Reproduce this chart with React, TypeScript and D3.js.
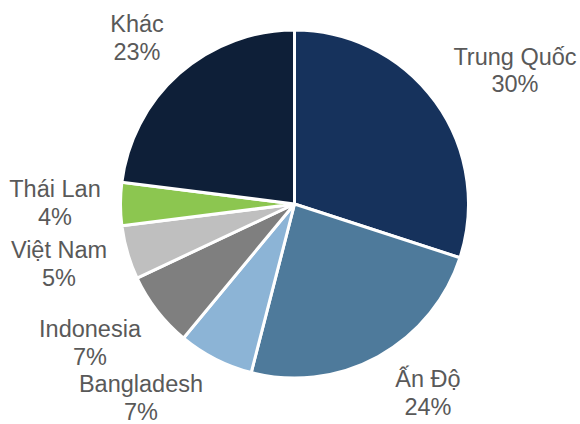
import React from "react";
import * as d3 from "d3";

const categories = ["Trung Quốc", "Ấn Độ", "Bangladesh", "Indonesia", "Việt Nam", "Thái Lan", "Khác"];
const values = [30, 24, 7, 7, 5, 4, 23];
const colors = ["#16325c", "#4e7a9b", "#8cb4d6", "#7f7f7f", "#bfbfbf", "#8cc650", "#0e1f38"];
// label centre positions (layout)
const labelPos: [number, number][] = [
  [515, 68.5],
  [428, 391],
  [141, 396],
  [90, 341],
  [59, 262],
  [55, 201],
  [137, 36],
];

export default function App() {
  const W = 580, H = 424;
  const cx = 294.5, cy = 204, r = 174;
  const pie = d3.pie<number>().sort(null).value((d) => d);
  const arcs = pie(values);
  const arc = d3.arc<d3.PieArcDatum<number>>().innerRadius(0).outerRadius(r);
  return (
    <svg width={W} height={H} style={{ position: "absolute", left: 0, top: 0 }}>
      <rect width={W} height={H} fill="#fff" />
      <g transform={`translate(${cx},${cy})`}>
        {arcs.map((a, i) => (
          <path key={i} d={arc(a) || ""} fill={colors[i]} stroke="#fff" strokeWidth={3} strokeLinejoin="round" />
        ))}
      </g>
      {categories.map((c, i) => (
        <text key={c} x={labelPos[i][0]} y={labelPos[i][1]} textAnchor="middle" fontFamily="'Liberation Sans', Arial, sans-serif" fontSize={23.5} fill="#595959">
          <tspan x={labelPos[i][0]} dy="-0.15em">{c}</tspan>
          <tspan x={labelPos[i][0]} dy="1.17em">{values[i]}%</tspan>
        </text>
      ))}
    </svg>
  );
}
